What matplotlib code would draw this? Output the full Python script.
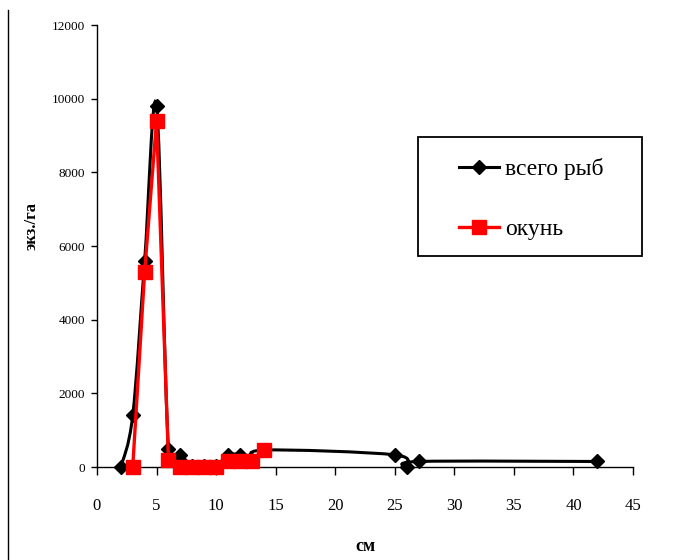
import numpy as np
import matplotlib
matplotlib.use("Agg")
import matplotlib.pyplot as plt
from matplotlib.path import Path
from matplotlib.patches import PathPatch, Rectangle
from matplotlib.lines import Line2D

# ---- data ----
all_x = [2, 3, 4, 5, 6, 7, 8, 9, 10, 11, 12, 13, 14, 25, 26, 27, 42]
all_y = [0, 1400, 5600, 9800, 500, 330, 30, 30, 30, 330, 330, 200, 460, 330, 0, 150, 150]
perch_x = [3, 4, 5, 6, 7, 8, 9, 10, 11, 12, 13, 14]
perch_y = [0, 5300, 9400, 200, 0, 0, 0, 0, 170, 170, 170, 460]
series_names = ["всего рыб", "окунь"]
x_ticks = [0, 5, 10, 15, 20, 25, 30, 35, 40, 45]
y_ticks = [0, 2000, 4000, 6000, 8000, 10000, 12000]

SERIF = ["Liberation Serif", "DejaVu Serif"]
plt.rcParams["font.family"] = SERIF

W, H = 673, 560
fig = plt.figure(figsize=(W / 100, H / 100), dpi=100)
ax = fig.add_axes([97 / W, 1 - 467 / H, (633 - 97) / W, (467 - 25) / H])


def smooth_path(xs, ys):
    pts = np.column_stack([xs, ys]).astype(float)
    n = len(pts)
    verts = [pts[0]]
    codes = [Path.MOVETO]
    for i in range(n - 1):
        p0 = pts[i - 1] if i > 0 else pts[i]
        p1 = pts[i]
        p2 = pts[i + 1]
        p3 = pts[i + 2] if i + 2 < n else pts[i + 1]
        c1 = p1 + (p2 - p0) / 6.0
        c2 = p2 - (p3 - p1) / 6.0
        verts += [c1, c2, p2]
        codes += [Path.CURVE4] * 3
    return Path(verts, codes)


# black smoothed series
ax.add_patch(PathPatch(smooth_path(all_x, all_y), facecolor="none",
                       edgecolor="black", lw=2.2, zorder=2, clip_on=True))
ax.plot(all_x, all_y, linestyle="none", marker="D", markersize=7.3,
        color="black", zorder=3, clip_on=False)

# red series
ax.plot(perch_x, perch_y, color="#ff0000", lw=2.4, marker="s", markersize=9.5,
        zorder=4, clip_on=False)

ax.set_xlim(0, 45)
ax.set_ylim(0, 12000)
ax.set_xticks(x_ticks)
ax.set_yticks(y_ticks)
ax.set_xticklabels([str(v) for v in x_ticks], fontsize=12)
ax.set_yticklabels([str(v) for v in y_ticks], fontsize=9.5)
ax.tick_params(axis="x", direction="out", length=6, width=1, pad=16)
ax.tick_params(axis="y", direction="out", length=4.5, width=1, pad=4)
for s in ["top", "right"]:
    ax.spines[s].set_visible(False)
for s in ["left", "bottom"]:
    ax.spines[s].set_linewidth(1)

ax.set_xlabel("см", fontsize=13, fontweight="bold")
ax.xaxis.set_label_coords(0.5, -0.16)
ax.set_ylabel("экз./га", fontsize=12, fontweight="bold")
ax.yaxis.set_label_coords(-0.108, 0.545)

# legend box
fig.patches.append(Rectangle((418 / W, 1 - 256 / H), (642 - 418) / W, (256 - 137) / H,
                             transform=fig.transFigure, facecolor="white",
                             edgecolor="black", lw=1.3, zorder=5))
handles = [
    Line2D([], [], color="black", lw=2.2, marker="D", markersize=7.3),
    Line2D([], [], color="#ff0000", lw=2.4, marker="s", markersize=9.5),
]
fig.legend(handles, series_names, loc="upper left",
           bbox_to_anchor=(459 / W, 1 - 158 / H), frameon=False,
           fontsize=17, labelspacing=1.65, handlelength=1.7,
           handletextpad=0.25, borderpad=0, borderaxespad=0)

# outer border line on the left
fig.add_artist(Line2D([8 / W, 8 / W], [0, 1 - 10 / H], transform=fig.transFigure,
                      color="black", lw=1))

fig.savefig("out.png", dpi=100)
